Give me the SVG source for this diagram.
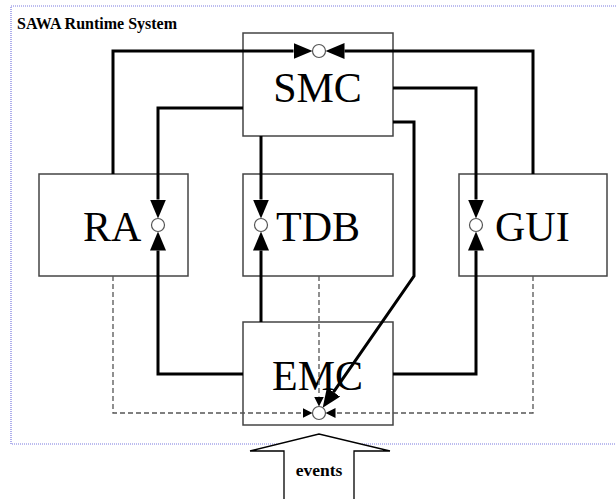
<svg xmlns="http://www.w3.org/2000/svg" width="616" height="499" viewBox="0 0 616 499">
<style>
.box{fill:#fff;stroke:#444;stroke-width:1.5}
.lbl{font-family:"Liberation Serif","Times New Roman",serif;font-size:42px;fill:#000}
.title{font-family:"Liberation Serif","Times New Roman",serif;font-size:16px;font-weight:bold;fill:#000}
.thick{fill:none;stroke:#000;stroke-width:3}
.dash{fill:none;stroke:#555;stroke-width:1.3;stroke-dasharray:5,3}
.port{fill:#fff;stroke:#555;stroke-width:1.2}
</style>
<defs>
<marker id="big" markerUnits="userSpaceOnUse" markerWidth="20" markerHeight="18" refX="0" refY="8" orient="auto" viewBox="0 0 20 18">
<path d="M0,0 L19,8 L0,16 z" fill="#000"/>
</marker>
<marker id="small" markerUnits="userSpaceOnUse" markerWidth="12" markerHeight="12" refX="0" refY="5" orient="auto" viewBox="0 0 12 12">
<path d="M0,0 L10,5 L0,10 z" fill="#000"/>
</marker>
</defs>
<rect x="0" y="0" width="616" height="499" fill="#fff"/>
<rect x="11" y="6" width="620" height="438" fill="none" stroke="#7a7ae0" stroke-width="1.2" stroke-dasharray="1,1"/>
<text class="title" x="17" y="29">SAWA Runtime System</text>

<g id="SMC"><rect class="box" x="243" y="33" width="150" height="103"/><text class="lbl" x="317.5" y="101.7" text-anchor="middle">SMC</text></g>
<g id="RA"><rect class="box" x="39" y="174" width="149" height="102"/><text class="lbl" x="83" y="240.7">RA</text></g>
<g id="TDB"><rect class="box" x="243" y="174" width="150" height="102"/><text class="lbl" x="276" y="240.7">TDB</text></g>
<g id="GUI"><rect class="box" x="459" y="174" width="148" height="102"/><text class="lbl" x="495" y="240.7">GUI</text></g>
<g id="EMC"><rect class="box" x="243" y="322" width="150" height="103"/><text class="lbl" x="317.5" y="390" text-anchor="middle">EMC</text></g>

<g id="connectors">
<path class="thick" d="M113,174 V51 H293.5" marker-end="url(#big)"/>
<path class="thick" d="M533,174 V51 H344.5" marker-end="url(#big)"/>
<path class="thick" d="M243,108 H158 V199.5" marker-end="url(#big)"/>
<path class="thick" d="M243,374 H158 V250.5" marker-end="url(#big)"/>
<path class="thick" d="M261,136 V199.5" marker-end="url(#big)"/>
<path class="thick" d="M261,322 V250.5" marker-end="url(#big)"/>
<path class="thick" d="M393,88 H476 V199.5" marker-end="url(#big)"/>
<path class="thick" d="M393,374 H476 V250.5" marker-end="url(#big)"/>
<path class="thick" d="M393,122 H414 V276 L333.5,392.1" marker-end="url(#big)"/>
<path class="dash" d="M113,276 V413 H302.5" marker-end="url(#small)"/>
<path class="dash" d="M533,276 V413 H335.5" marker-end="url(#small)"/>
<path class="dash" d="M319,276 V396.5" marker-end="url(#small)"/>
</g>

<g id="ports">
<circle class="port" cx="319" cy="51" r="6.5"/>
<circle class="port" cx="158" cy="225" r="6.5"/>
<circle class="port" cx="261" cy="225" r="6.5"/>
<circle class="port" cx="476" cy="225" r="6.5"/>
<circle class="port" cx="319" cy="413" r="6.5"/>
</g>

<g id="events">
<polygon points="284,502 284,451 250,451 319,434 390,451 354,451 354,502" fill="#fff" stroke="#000" stroke-width="1.3"/>
<text class="title" x="319" y="476" text-anchor="middle" style="font-size:17.5px">events</text>
</g>
</svg>
